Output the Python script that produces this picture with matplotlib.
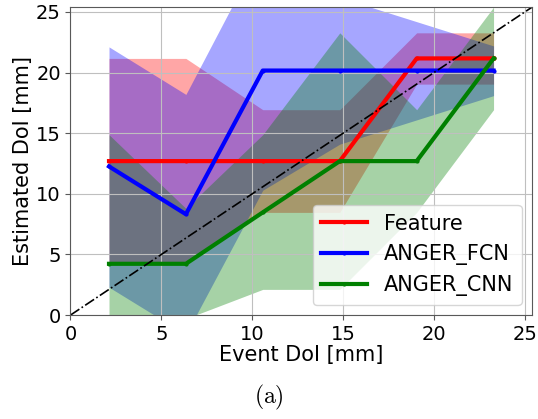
import matplotlib
matplotlib.use("Agg")
import matplotlib.pyplot as plt

plt.rcParams['mathtext.fontset'] = 'cm'

# bin centres of event DoI [mm]
event_doi = [2.12, 6.35, 10.58, 14.82, 19.05, 23.28]

feature = [12.7, 12.7, 12.7, 12.7, 21.17, 21.17]
feature_lo = [4.23, 4.23, 8.47, 8.47, 19.05, 19.05]
feature_hi = [21.17, 21.17, 16.94, 16.94, 23.28, 23.28]

fcn = [12.26, 8.32, 20.17, 20.17, 20.17, 20.17]
fcn_lo = [2.3, -1.6, 10.3, 14.1, 16.1, 18.1]
fcn_hi = [22.12, 18.2, 30.3, 26.2, 24.2, 22.2]

cnn = [4.23, 4.23, 8.47, 12.7, 12.7, 21.17]
cnn_lo = [-0.6, -0.3, 2.12, 2.12, 8.47, 16.94]
cnn_hi = [14.88, 8.8, 14.88, 23.28, 16.94, 25.4]

lim = 25.4

fig = plt.figure(figsize=(5.38, 4.19), dpi=100)
ax = fig.add_axes([0.131, 0.248, 0.858, 0.735])

series = [
    ("Feature", "red", feature, feature_lo, feature_hi),
    ("ANGER_FCN", "blue", fcn, fcn_lo, fcn_hi),
    ("ANGER_CNN", "green", cnn, cnn_lo, cnn_hi),
]
for name, col, y, lo, hi in series:
    ax.plot(event_doi, y, color=col, lw=3, marker='.', ms=4, label=name)
    ax.fill_between(event_doi, lo, hi, color=col, alpha=0.35, lw=0)

ax.plot([0, lim], [0, lim], 'k-.', lw=1.2)

ax.set_xlim(0, lim)
ax.set_ylim(0, lim)
ax.set_xticks([0, 5, 10, 15, 20, 25])
ax.set_yticks([0, 5, 10, 15, 20, 25])
ax.tick_params(labelsize=14, color='0.35')
for s in ax.spines.values():
    s.set_edgecolor('0.35')
ax.grid(True, color='0.75')
ax.set_xlabel("Event DoI [mm]", fontsize=15, labelpad=1)
ax.set_ylabel("Estimated DoI [mm]", fontsize=15, labelpad=2)
ax.legend(loc='lower right', fontsize=15, handlelength=2.2)

fig.text(0.5, 0.037, r'$\mathrm{(a)}$', fontsize=17, ha='center')

fig.savefig("out.png", dpi=100)
